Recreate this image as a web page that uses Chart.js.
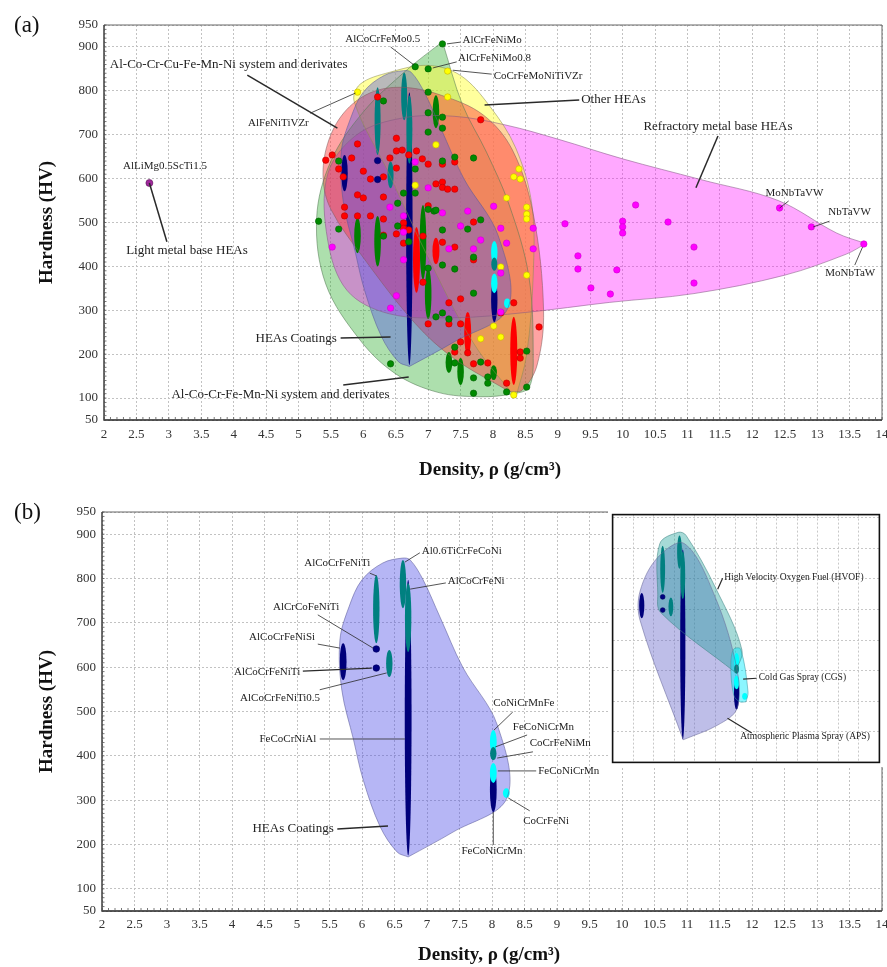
<!DOCTYPE html>
<html>
<head>
<meta charset="utf-8">
<title>Hardness vs density of HEAs</title>
<script src="https://cdn.jsdelivr.net/npm/chart.js@4.4.1/dist/chart.umd.min.js"></script>
<style>
  html, body { margin: 0; padding: 0; background: #fff; }
  body { position: relative; width: 887px; height: 967px; overflow: hidden; }
  canvas { position: absolute; display: block; }
  #chartA { left: 0; top: 0; }
  #chartB { left: 0; top: 490px; }
  #inset { left: 608px; top: 510px; background: #fff; }
</style>
</head>
<body>
<canvas id="chartA" width="887" height="490"></canvas>
<canvas id="chartB" width="887" height="477"></canvas>
<canvas id="inset" width="276" height="257"></canvas>
<script>
/* ---------- axes ---------- */
const xTicks = [2, 2.5, 3, 3.5, 4, 4.5, 5, 5.5, 6, 6.5, 7, 7.5, 8, 8.5, 9, 9.5, 10, 10.5, 11, 11.5, 12, 12.5, 13, 13.5, 14];
const yTicks = [50, 100, 200, 300, 400, 500, 600, 700, 800, 900, 950];
const insetXTicks = [5, 5.5, 6, 6.5, 7, 7.5, 8, 8.5, 9, 9.5, 10, 10.5, 11, 11.5];
const insetYTicks = [100, 200, 300, 400, 500, 600, 700, 800, 900];

/* ---------- (a) individual alloys: [density, hardness] ---------- */
const redPoints = [[6.22,786],[7.81,734],[6.51,692],[5.91,679],[5.42,642],[5.52,654],[5.82,647],[5.62,622],[5.69,604],[6.51,663],
  [6.41,647],[6.6,665],[6.7,654],[6.82,663],[6.91,645],[7.0,633],[7.22,633],[7.41,638],[6.51,624],[6.0,617],[6.11,599],[6.31,604],
  [7.12,588],[7.22,592],[7.22,580],[7.3,576],[7.41,576],[5.91,563],[6.0,556],[6.31,558],[5.71,535],[7.0,538],[5.71,515],[5.91,515],
  [6.11,515],[6.31,508],[6.62,499],[6.62,487],[7.7,501],[6.31,471],[6.51,474],[6.62,453],[6.7,483],[6.92,469],[6.92,364],[7.22,455],
  [7.41,444],[7.5,326],[7.32,317],[7.0,269],[7.32,269],[7.5,269],[7.5,228],[7.41,205],[7.61,203],[7.7,415],[7.7,178],[7.92,180],
  [8.12,294],[8.32,317],[8.42,205],[8.42,191],[8.21,134],[8.71,262]];
const greenPoints = [[6.8,855],[7.0,850],[7.22,907],[6.31,777],[7.0,797],[7.0,750],[7.22,740],[7.0,706],[7.22,715],[5.62,640],
  [7.22,640],[7.41,649],[7.7,647],[6.8,622],[6.8,567],[6.53,544],[7.09,526],[7.81,506],[7.61,485],[5.62,485],[5.31,503],[6.53,492],
  [6.31,469],[6.62,567],[6.7,456],[7.0,530],[7.12,528],[7.22,483],[7.22,403],[7.41,394],[7.12,285],[7.22,294],[7.32,280],[7.41,216],
  [7.41,180],[7.7,421],[7.7,339],[7.81,182],[7.7,146],[7.92,148],[7.92,134],[7.7,111],[8.52,207],[8.21,114],[8.52,125],[6.42,178],[7.0,396]];
const yellowPoints = [[7.3,845],[5.91,797],[7.3,786],[7.12,677],[6.8,585],[8.21,556],[8.52,535],[8.4,622],[8.32,604],[8.42,599],
  [8.52,519],[8.52,508],[7.81,235],[8.01,264],[8.12,239],[8.12,399],[8.52,380],[8.32,107]];
const magentaPoints = [[6.8,638],[7.0,579],[6.41,535],[7.22,522],[7.61,526],[8.01,537],[6.62,515],[7.5,492],[8.12,487],[8.21,453],
  [5.52,444],[6.62,478],[6.62,415],[7.32,440],[7.81,460],[7.7,440],[6.51,333],[6.42,305],[8.62,487],[8.62,440],[8.12,385],[8.12,296],
  [9.11,497],[9.31,424],[9.31,394],[9.51,351],[9.81,337],[9.91,392],[10.0,503],[10.0,490],[10.0,476],[10.2,540],[10.7,501],
  [11.1,444],[11.1,362],[12.42,533],[12.91,490],[13.72,451]];
const lightMetalPoints = [[2.7,590]];

/* ranges drawn as ellipses: [density, min HV, max HV] */
const greenRanges = [[5.91,430,510],[6.22,400,515],[6.92,370,540],[7.0,280,395],[7.12,715,790],[7.32,157,205],[7.5,130,191],[8.01,141,175]];
const redRanges = [[6.82,340,490],[7.12,405,465],[7.61,198,296],[8.32,130,285]];

/* ---------- coatings (shared by a, b and inset) ---------- */
const coatNavyRanges = [[5.71,571,654],[6.71,175,797],[8.02,273,375]];
const coatTealRanges = [[6.22,654,808],[6.42,578,639],[6.63,733,842],[6.71,634,790],[8.02,390,420]];
const coatCyanRanges = [[8.02,339,384],[8.02,406,458],[8.22,305,327]];
const coatNavyPoints = [[6.22,641],[6.22,598]];

/* ---------- envelopes ---------- */
const hullCoatings = [[6.71,172],[7.4,228],[8.23,305],[8.08,470],[7.55,600],[7.2,713],[6.94,797],[6.74,842],[6.62,846],[6.32,835],
  [6.0,797],[5.8,736],[5.66,661],[5.69,548],[5.87,436],[6.02,345],[6.28,240],[6.54,183]];
const hullAlCoCrFeMnNi = [[7.22,912],[6.65,845],[6.0,752],[5.5,640],[5.28,510],[5.42,360],[5.95,232],[6.5,155],[7.15,113],[7.8,103],
  [8.32,110],[8.56,125],[8.62,200],[8.55,380],[8.25,540],[7.9,660],[7.53,768]];
const hullCuSystem = [[8.25,115],[7.4,190],[6.8,270],[6.0,420],[5.5,530],[5.38,600],[5.45,680],[5.7,750],[6.1,795],[6.6,808],
  [7.2,790],[7.85,745],[8.3,665],[8.62,520],[8.78,300],[8.68,175],[8.45,118]];
const hullOther = [[8.35,100],[7.7,225],[7.0,420],[6.4,610],[5.86,775],[5.95,815],[6.4,842],[7.0,858],[7.5,835],[7.95,765],
  [8.35,670],[8.6,540],[8.62,380],[8.52,200]];
const hullRefractory = [[13.75,452],[13.3,476],[12.4,550],[11.2,598],[10.0,645],[9.0,690],[8.2,722],[7.4,742],[6.6,738],[5.9,700],
  [5.45,610],[5.45,460],[5.75,345],[6.4,292],[7.4,283],[8.5,295],[9.8,318],[11.1,338],[12.5,380],[13.45,428]];
const hullHVOF = [[7.99,394],[8.15,468],[7.51,670],[6.79,842],[6.6,852],[6.15,815],[6.1,650],[6.17,590]];
const hullAPS = [[6.72,174],[7.56,222],[8.03,276],[8.03,404],[7.5,640],[6.75,815],[6.1,770],[5.67,660],[5.67,564]];
const hullCGS = [[8.25,298],[8.3,330],[8.12,470],[7.95,470],[7.88,420],[7.95,320],[8.1,298]];

/* ---------- annotations: [text, x, y, align, size] and leaders [x1, y1, x2, y2, width] ---------- */
const notesA = [
  ['AlLiMg0.5ScTi1.5', 2.94, 629, 'center', 11],
  ['Light metal base HEAs', 3.28, 435, 'center', 13],
  ['Al-Co-Cr-Cu-Fe-Mn-Ni system and derivates', 2.09, 859, 'left', 13],
  ['AlFeNiTiVZr', 4.69, 727, 'center', 11],
  ['AlCoCrFeMo0.5', 6.3, 918, 'center', 11],
  ['AlCrFeNiMo', 7.53, 916, 'left', 11],
  ['AlCrFeNiMo0.8', 7.46, 875, 'left', 11],
  ['CoCrFeMoNiTiVZr', 8.01, 834, 'left', 11],
  ['Other HEAs', 9.36, 779, 'left', 13],
  ['Refractory metal base HEAs', 11.47, 718, 'center', 13],
  ['MoNbTaVW', 12.65, 567, 'center', 11],
  ['NbTaVW', 13.5, 524, 'center', 11],
  ['MoNbTaW', 13.51, 385, 'center', 11],
  ['HEAs Coatings', 5.59, 235, 'right', 13],
  ['Al-Co-Cr-Fe-Mn-Ni system and derivates', 3.04, 109, 'left', 13]
];
const leadersA = [
  [2.7,590,2.97,456,1.5],[4.21,836,5.6,715,1.5],[5.18,749,5.88,795,0.8],[6.42,900,6.78,859,0.8],[7.5,911,7.29,907,0.8],
  [7.44,866,7.07,852,0.8],[7.98,838,7.38,847,0.8],[9.33,779,7.87,768,1.5],[11.47,697,11.13,579,1.5],[12.56,549,12.42,533,0.8],
  [13.19,503,12.94,490,0.8],[13.58,403,13.7,444,0.8],[5.65,237,6.42,239,1.5],[5.69,130,6.7,148,1.5]
];
const notesB = [
  ['AlCoCrFeNiTi', 5.62, 835, 'center', 11],
  ['Al0.6TiCrFeCoNi', 6.92, 862, 'left', 11],
  ['AlCoCrFeNi', 7.32, 794, 'left', 11],
  ['AlCrCoFeNiTi', 5.14, 736, 'center', 11],
  ['AlCoCrFeNiSi', 4.77, 668, 'center', 11],
  ['AlCoCrFeNiTi', 4.54, 589, 'center', 11],
  ['AlCoCrFeNiTi0.5', 4.74, 530, 'center', 11],
  ['FeCoCrNiAl', 4.86, 438, 'center', 11],
  ['CoNiCrMnFe', 8.02, 519, 'left', 11],
  ['FeCoNiCrMn', 8.32, 465, 'left', 11],
  ['CoCrFeNiMn', 8.58, 429, 'left', 11],
  ['FeCoNiCrMn', 8.71, 366, 'left', 11],
  ['CoCrFeNi', 8.48, 253, 'left', 11],
  ['FeCoNiCrMn', 8.0, 185, 'center', 11],
  ['HEAs Coatings', 4.94, 235, 'center', 13]
];
const leadersB = [
  [6.12,812,6.22,806,0.8],[6.89,858,6.66,837,0.8],[7.29,790,6.74,776,0.8],[5.32,718,6.17,643,0.8],[5.32,652,5.66,643,0.8],
  [5.09,591,6.15,598,1.2],[5.35,549,6.38,587,0.8],[5.35,438,6.66,438,0.8],[8.32,499,8.03,458,0.8],[8.54,447,8.05,420,0.8],
  [8.63,409,8.08,395,0.8],[8.68,366,8.09,366,0.8],[8.58,276,8.25,305,0.8],[8.02,199,8.02,273,0.8],[5.62,235,6.4,242,1.5]
];
const notesInset = [
  ['High Velocity Oxygen Fuel (HVOF)', 7.72, 705, 'left', 9.5],
  ['Cold Gas Spray (CGS)', 8.56, 378, 'left', 9.5],
  ['Atmospheric Plasma Spray (APS)', 8.11, 186, 'left', 9.5]
];
const leadersInset = [[7.68,702,7.56,666,1.2],[8.51,375,8.18,372,1.2],[8.39,196,7.8,244,1.2]];

/* ---------- helpers ---------- */
Chart.defaults.font.family = "'Liberation Serif', 'Times New Roman', serif";

const toXY = pts => pts.map(([x, y]) => ({x, y}));

function dots(pts, color, edge, r) {
    return {
        data: toXY(pts),
        backgroundColor: color,
        borderColor: edge,
        borderWidth: 0.6,
        pointRadius: r || 3.2
    };
}

function envelope(pts, fillColor, lineColor) {
    return {
        data: toXY(pts.concat([pts[0]])),
        showLine: true,
        fill: 'shape',
        tension: 0.35,
        backgroundColor: fillColor,
        borderColor: lineColor,
        borderWidth: 0.9,
        pointRadius: 0
    };
}

function drawRanges(chart, list, color, rx) {
    const {ctx, scales: {x, y}} = chart;
    ctx.fillStyle = color;
    list.forEach(([cx, lo, hi]) => {
        const px = x.getPixelForValue(cx);
        const top = y.getPixelForValue(hi);
        const bot = y.getPixelForValue(lo);
        ctx.beginPath();
        ctx.ellipse(px, (top + bot) / 2, rx, Math.max((bot - top) / 2, rx), 0, 0, Math.PI * 2);
        ctx.fill();
    });
}

function drawNotes(chart, notes, leaders) {
    const {ctx, scales: {x, y}} = chart;
    ctx.save();
    ctx.strokeStyle = '#2a2a2a';
    leaders.forEach(([x1, y1, x2, y2, w]) => {
        ctx.lineWidth = w;
        ctx.beginPath();
        ctx.moveTo(x.getPixelForValue(x1), y.getPixelForValue(y1));
        ctx.lineTo(x.getPixelForValue(x2), y.getPixelForValue(y2));
        ctx.stroke();
    });
    ctx.fillStyle = '#222';
    ctx.textBaseline = 'middle';
    notes.forEach(([text, tx, ty, align, size]) => {
        ctx.font = size + "px 'Liberation Serif', serif";
        ctx.textAlign = align;
        ctx.fillText(text, x.getPixelForValue(tx), y.getPixelForValue(ty));
    });
    ctx.restore();
}

function drawFrame(chart, minor) {
    const {ctx, chartArea: a, scales: {x, y}} = chart;
    ctx.save();
    ctx.strokeStyle = '#666';
    ctx.lineWidth = 1;
    ctx.beginPath();
    ctx.moveTo(a.left, a.top); ctx.lineTo(a.right, a.top); ctx.lineTo(a.right, a.bottom);
    ctx.stroke();
    ctx.strokeStyle = '#222';
    ctx.lineWidth = 1.3;
    ctx.beginPath();
    ctx.moveTo(a.left, a.top); ctx.lineTo(a.left, a.bottom); ctx.lineTo(a.right, a.bottom);
    ctx.stroke();
    if (minor) {
        ctx.lineWidth = 0.8;
        ctx.strokeStyle = '#555';
        ctx.beginPath();
        for (let i = 20; i <= 140; i++) {
            const px = x.getPixelForValue(i / 10);
            ctx.moveTo(px, a.bottom); ctx.lineTo(px, a.bottom - 3);
        }
        for (let v = 50; v <= 950; v += 10) {
            const py = y.getPixelForValue(v);
            ctx.moveTo(a.left, py); ctx.lineTo(a.left + 2.5, py);
        }
        ctx.stroke();
    }
    ctx.restore();
}

function drawTitles(chart, letter, xTitleY) {
    const {ctx, chartArea: a} = chart;
    ctx.save();
    ctx.fillStyle = '#111';
    ctx.textAlign = 'center';
    ctx.textBaseline = 'middle';
    ctx.font = "bold 19px 'Liberation Serif', serif";
    ctx.fillText('Density, \u03c1 (g/cm\u00b3)', (a.left + a.right) / 2 - 3, xTitleY);
    ctx.translate(47, (a.top + a.bottom) / 2);
    ctx.rotate(-Math.PI / 2);
    ctx.fillText('Hardness (HV)', 0, 0);
    ctx.restore();
    ctx.save();
    ctx.fillStyle = '#111';
    ctx.font = "23px 'Liberation Serif', serif";
    ctx.textBaseline = 'middle';
    ctx.fillText(letter, 14, a.top + 1);
    ctx.restore();
}

function mainScales(yWidth, xHeight, xPad) {
    return {
        x: {
            type: 'linear', min: 2, max: 14,
            afterBuildTicks: s => { s.ticks = xTicks.map(v => ({value: v})); },
            afterFit: s => { s.height = xHeight; s.paddingLeft = 0; s.paddingRight = 0; },
            ticks: { callback: v => String(v), font: {size: 13}, color: '#333', padding: xPad, maxRotation: 0, autoSkip: false },
            grid: { color: '#c2c2c2', lineWidth: 1, drawTicks: false },
            border: { display: false, dash: [2, 2] }
        },
        y: {
            type: 'linear', min: 50, max: 950,
            afterBuildTicks: s => { s.ticks = yTicks.map(v => ({value: v})); },
            afterFit: s => { s.width = yWidth; s.paddingTop = 0; s.paddingBottom = 0; },
            ticks: { callback: v => String(v), font: {size: 13}, color: '#333', padding: 6, autoSkip: false },
            grid: { color: '#c2c2c2', lineWidth: 1, drawTicks: false },
            border: { display: false, dash: [2, 2] }
        }
    };
}

const commonOptions = {
    responsive: false,
    animation: false,
    devicePixelRatio: 1,
    events: [],
    plugins: {
        legend: { display: false },
        tooltip: { enabled: false },
        filler: { drawTime: 'beforeDatasetsDraw' }
    }
};

/* ---------- (a) ---------- */
new Chart(document.getElementById('chartA'), {
    type: 'scatter',
    data: {
        datasets: [
            dots(coatNavyPoints, '#000080', '#000060'),
            dots(lightMetalPoints, '#a0289c', '#5a1058', 3.5),
            dots(magentaPoints, '#ff00ff', '#d000d0'),
            dots(yellowPoints, '#ffff00', '#c8b400'),
            dots(greenPoints, '#008a00', '#006000'),
            dots(redPoints, '#ff0000', '#c00000'),
            envelope(hullCoatings, 'rgba(80,80,230,0.4)', 'rgba(90,90,150,0.6)'),
            envelope(hullCuSystem, 'rgba(255,50,50,0.45)', 'rgba(130,90,90,0.6)'),
            envelope(hullOther, 'rgba(255,255,60,0.5)', 'rgba(140,140,80,0.6)'),
            envelope(hullRefractory, 'rgba(255,0,255,0.34)', 'rgba(130,90,130,0.6)'),
            envelope(hullAlCoCrFeMnNi, 'rgba(40,170,40,0.38)', 'rgba(80,120,80,0.6)')
        ]
    },
    options: Object.assign({}, commonOptions, {
        layout: { padding: { left: 0, right: 5, top: 25, bottom: 0 } },
        scales: mainScales(104, 70, 7)
    }),
    plugins: [{
        id: 'decorA',
        beforeDatasetsDraw(chart) {
            drawRanges(chart, coatNavyRanges, '#00007a', 3.2);
            drawRanges(chart, greenRanges, '#008000', 3.3);
            drawRanges(chart, redRanges, '#ff0000', 3.5);
            drawRanges(chart, coatCyanRanges, '#00ffff', 3.2);
            drawRanges(chart, coatTealRanges, '#008080', 3.0);
        },
        afterDatasetsDraw(chart) { drawNotes(chart, notesA, leadersA); },
        afterDraw(chart) {
            drawFrame(chart, true);
            drawTitles(chart, '(a)', 470);
        }
    }]
});

/* ---------- (b) ---------- */
new Chart(document.getElementById('chartB'), {
    type: 'scatter',
    data: {
        datasets: [
            dots(coatNavyPoints, '#000080', '#000060', 3.3),
            envelope(hullCoatings, 'rgba(80,80,230,0.42)', 'rgba(90,90,150,0.6)')
        ]
    },
    options: Object.assign({}, commonOptions, {
        layout: { padding: { left: 0, right: 5, top: 22, bottom: 0 } },
        scales: mainScales(102, 56, 6)
    }),
    plugins: [{
        id: 'decorB',
        beforeDatasetsDraw(chart) {
            drawRanges(chart, coatNavyRanges, '#00007a', 3.4);
            drawRanges(chart, coatCyanRanges, '#00ffff', 3.4);
            drawRanges(chart, coatTealRanges, '#008080', 3.2);
        },
        afterDatasetsDraw(chart) { drawNotes(chart, notesB, leadersB); },
        afterDraw(chart) {
            drawFrame(chart, true);
            drawTitles(chart, '(b)', 465);
        }
    }]
});

/* ---------- inset of (b) ---------- */
new Chart(document.getElementById('inset'), {
    type: 'scatter',
    data: {
        datasets: [
            dots(coatNavyPoints, '#000080', '#000060', 2.4),
            envelope(hullCGS, 'rgba(0,235,255,0.45)', 'rgba(60,150,160,0.6)'),
            envelope(hullHVOF, 'rgba(0,150,140,0.35)', 'rgba(60,130,130,0.6)'),
            envelope(hullAPS, 'rgba(100,100,200,0.42)', 'rgba(100,100,150,0.6)')
        ]
    },
    options: Object.assign({}, commonOptions, {
        layout: { padding: { left: 2, right: 2, top: 2, bottom: 2 } },
        scales: {
            x: {
                type: 'linear', min: 5, max: 11.5,
                afterBuildTicks: s => { s.ticks = insetXTicks.map(v => ({value: v})); },
                afterFit: s => { s.height = 0; s.paddingLeft = 0; s.paddingRight = 0; },
                ticks: { display: false },
                grid: { color: '#c8c8c8', drawTicks: false },
                border: { display: false, dash: [2, 2] }
            },
            y: {
                type: 'linear', min: 100, max: 910,
                afterBuildTicks: s => { s.ticks = insetYTicks.map(v => ({value: v})); },
                afterFit: s => { s.width = 0; s.paddingTop = 0; s.paddingBottom = 0; },
                ticks: { display: false },
                grid: { color: '#c8c8c8', drawTicks: false },
                border: { display: false, dash: [2, 2] }
            }
        }
    }),
    plugins: [{
        id: 'decorInset',
        beforeDatasetsDraw(chart) {
            drawRanges(chart, coatNavyRanges, '#00007a', 2.6);
            drawRanges(chart, coatCyanRanges, '#00ffff', 2.6);
            drawRanges(chart, coatTealRanges, '#008080', 2.4);
        },
        afterDatasetsDraw(chart) { drawNotes(chart, notesInset, leadersInset); },
        afterDraw(chart) {
            const {ctx, chartArea: a} = chart;
            ctx.save();
            ctx.strokeStyle = '#111';
            ctx.lineWidth = 1.6;
            ctx.strokeRect(a.left, a.top, a.right - a.left, a.bottom - a.top);
            ctx.restore();
        }
    }]
});
</script>
</body>
</html>
